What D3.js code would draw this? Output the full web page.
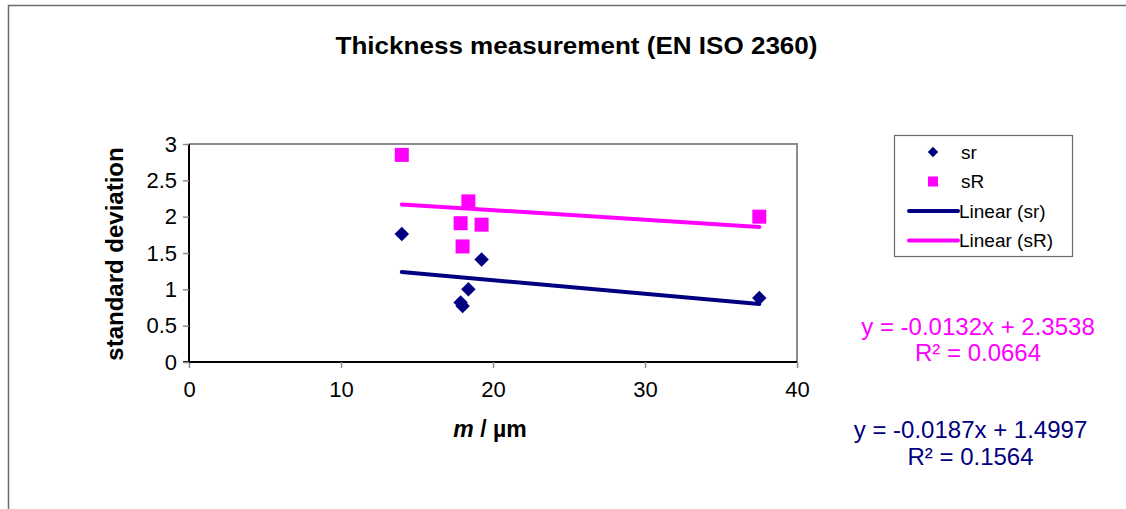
<!DOCTYPE html>
<html>
<head>
<meta charset="utf-8">
<script src="https://cdn.jsdelivr.net/npm/d3@7"></script>
<style>
  html, body { margin: 0; padding: 0; background: #fff; }
  svg { display: block; font-family: Arial, "Liberation Sans", sans-serif; }
</style>
</head>
<body>
<svg id="chart" width="1126" height="509"></svg>
<script>
// ---- data ----
const title = "Thickness measurement (EN ISO 2360)";
const xTicks = [0, 10, 20, 30, 40];
const yTicks = [0, 0.5, 1, 1.5, 2, 2.5, 3];
const mValues = [14.0, 17.87, 18.0, 18.38, 19.25, 37.52];
const srValues = [1.76, 0.82, 0.77, 1.00, 1.41, 0.88];
const sRValues = [2.85, 1.91, 1.59, 2.21, 1.89, 2.00];
const seriesNames = ["sr", "sR"];
const trendNames = ["Linear (sr)", "Linear (sR)"];
const srTrend = [-0.0187, 1.4997];
const sRTrend = [-0.0132, 2.3538];
const srEquation = ["y = -0.0187x + 1.4997", "R² = 0.1564"];
const sREquation = ["y = -0.0132x + 2.3538", "R² = 0.0664"];

// ---- drawing ----
const navy = "#000080", magenta = "#FF00FF";
const svg = d3.select("#chart");

// outer chart border
svg.append("path")
  .attr("d", "M8.5,509 L8.5,5.5 L1126,5.5")
  .attr("fill", "none").attr("stroke", "#6b6b6b").attr("stroke-width", 1.5);

svg.append("text")
  .attr("x", 576.5).attr("y", 54)
  .attr("text-anchor", "middle")
  .attr("font-size", 24).attr("font-weight", "bold")
  .attr("textLength", 482).attr("lengthAdjust", "spacingAndGlyphs")
  .text(title);

const x = d3.scaleLinear().domain([0, 40]).range([189, 797]);
const y = d3.scaleLinear().domain([0, 3]).range([362, 144]);

// plot frame (top/right gray)
svg.append("path")
  .attr("d", `M${x(0)},${y(3)} L${x(40)},${y(3)} L${x(40)},${y(0)}`)
  .attr("fill", "none").attr("stroke", "#8c8c8c").attr("stroke-width", 2);

// axes
const xAxis = d3.axisBottom(x).tickValues(xTicks).tickSize(6).tickPadding(13).tickFormat(d3.format("d"));
const yAxis = d3.axisLeft(y).tickValues(yTicks).tickSize(6).tickPadding(6).tickFormat(d => String(d));

const gx = svg.append("g").attr("transform", `translate(0,${y(0)})`).call(xAxis);
const gy = svg.append("g").attr("transform", `translate(${x(0)},0)`).call(yAxis);
[gx, gy].forEach(g => {
  g.select(".domain").attr("stroke", "#000").attr("stroke-width", 2);
  g.selectAll(".tick line").attr("stroke", "#8c8c8c").attr("stroke-width", 1.5);
  g.selectAll(".tick text").attr("font-size", 22).attr("fill", "#000")
    .attr("font-family", "Arial, 'Liberation Sans', sans-serif");
});
gy.select(".domain").attr("d", `M${-6},${y(0)}H0V${y(3)}`);
gx.select(".domain").attr("d", `M${x(0)},0H${x(40)}`);

// axis titles
const xl = svg.append("text").attr("x", 490).attr("y", 437)
  .attr("text-anchor", "middle").attr("font-size", 23).attr("font-weight", "bold");
xl.append("tspan").attr("font-style", "italic").text("m");
xl.append("tspan").text(" / µm");

svg.append("text")
  .attr("transform", "translate(123,254) rotate(-90)")
  .attr("text-anchor", "middle").attr("font-size", 24).attr("font-weight", "bold")
  .text("standard deviation");

// trend lines
function trendLine(coef, color) {
  const xs = d3.extent(mValues);
  svg.append("line")
    .attr("x1", x(xs[0])).attr("y1", y(coef[0] * xs[0] + coef[1]))
    .attr("x2", x(xs[1])).attr("y2", y(coef[0] * xs[1] + coef[1]))
    .attr("stroke", color).attr("stroke-width", 4).attr("stroke-linecap", "round");
}
trendLine(srTrend, navy);
trendLine(sRTrend, magenta);

// markers
const diamond = d3.symbol().type(d3.symbolSquare).size(105);
svg.append("g").selectAll("rect").data(mValues.map((m, i) => [m, sRValues[i]]))
  .join("rect")
  .attr("x", d => x(d[0]) - 7).attr("y", d => y(d[1]) - 7)
  .attr("width", 14).attr("height", 14).attr("fill", magenta);
svg.append("g").selectAll("path").data(mValues.map((m, i) => [m, srValues[i]]))
  .join("path")
  .attr("d", diamond)
  .attr("transform", d => `translate(${x(d[0])},${y(d[1])}) rotate(45)`)
  .attr("fill", navy);

// legend
const lg = svg.append("g");
lg.append("rect").attr("x", 894.5).attr("y", 135.5).attr("width", 178).attr("height", 121)
  .attr("fill", "#fff").attr("stroke", "#6b6b6b").attr("stroke-width", 1.2);
const rows = [152, 181.5, 211, 240.5];
lg.append("path").attr("d", d3.symbol().type(d3.symbolSquare).size(55))
  .attr("transform", `translate(933,${rows[0]}) rotate(45)`).attr("fill", navy);
lg.append("rect").attr("x", 928).attr("y", rows[1] - 5).attr("width", 10).attr("height", 10).attr("fill", magenta);
lg.append("line").attr("x1", 909).attr("x2", 958).attr("y1", rows[2]).attr("y2", rows[2])
  .attr("stroke", navy).attr("stroke-width", 4).attr("stroke-linecap", "round");
lg.append("line").attr("x1", 909).attr("x2", 958).attr("y1", rows[3]).attr("y2", rows[3])
  .attr("stroke", magenta).attr("stroke-width", 4).attr("stroke-linecap", "round");
const legendLabels = [seriesNames[0], seriesNames[1], trendNames[0], trendNames[1]];
const lx = [961, 961, 959, 959];
legendLabels.forEach((t, i) => {
  lg.append("text").attr("x", lx[i]).attr("y", rows[i]).attr("dy", "0.35em")
    .attr("font-size", 19).text(t);
});

// equations
function eq(lines, cx, ys, color) {
  lines.forEach((t, i) => {
    svg.append("text").attr("x", cx).attr("y", ys[i]).attr("text-anchor", "middle")
      .attr("font-size", 24).attr("fill", color).text(t);
  });
}
eq(sREquation, 978, [335, 361], magenta);
eq(srEquation, 970.5, [438, 465], navy);
</script>
</body>
</html>
